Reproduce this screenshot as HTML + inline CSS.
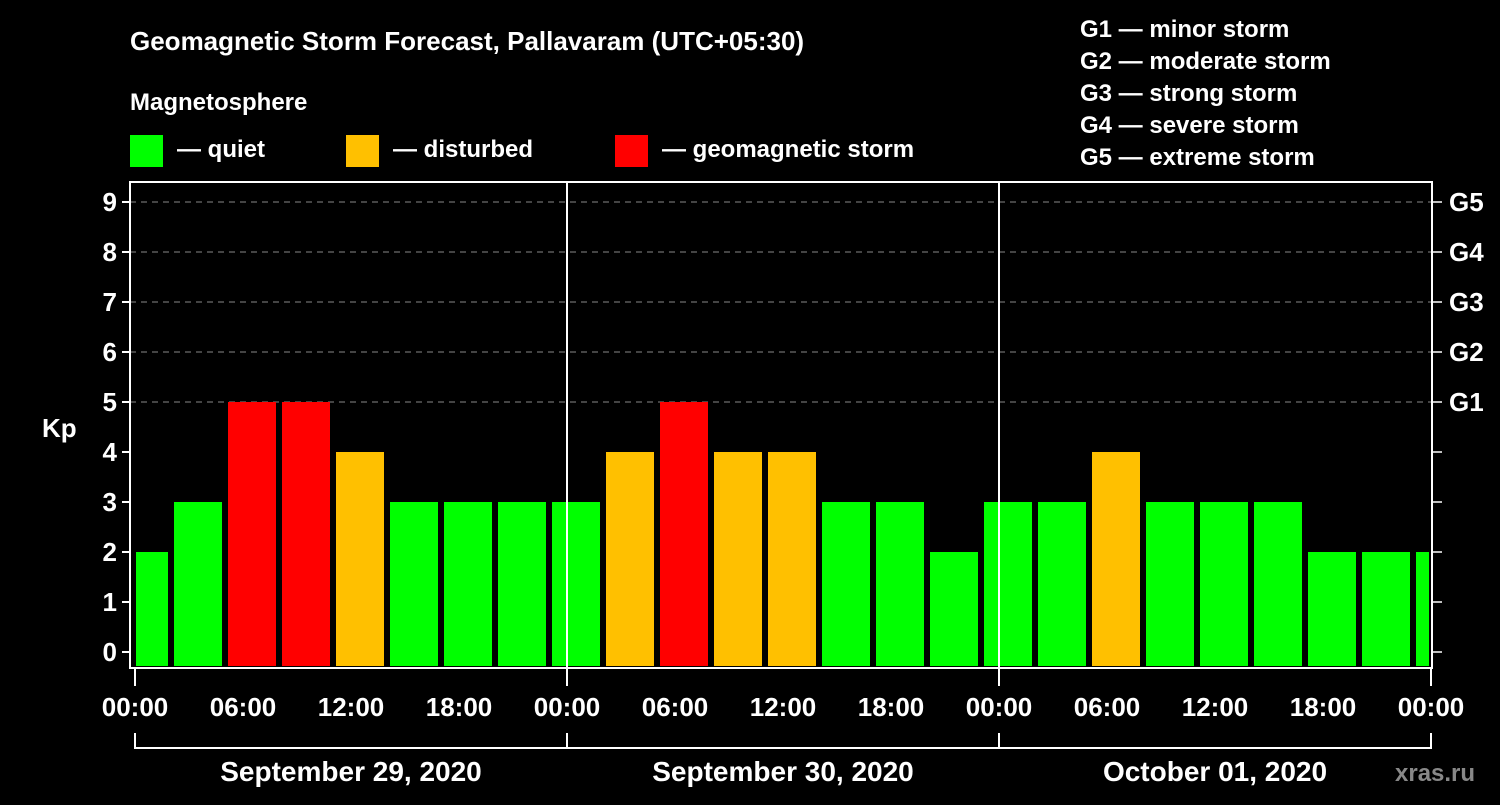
<!DOCTYPE html>
<html><head><meta charset="utf-8"><style>
body{margin:0;background:#000;width:1500px;height:800px;overflow:hidden;font-family:"Liberation Sans",sans-serif}
</style></head><body>
<svg id="chart" width="1500" height="800" xmlns="http://www.w3.org/2000/svg" font-family="Liberation Sans, sans-serif" font-weight="bold" fill="#fff">
<rect width="1500" height="800" fill="#000"/>
<text x="130" y="50" font-size="26">Geomagnetic Storm Forecast, Pallavaram (UTC+05:30)</text>
<text x="130" y="110" font-size="24">Magnetosphere</text>
<g><rect x="130" y="135" width="33" height="32" fill="#00ff00"/><text x="177" y="157" font-size="24">— quiet</text></g>
<g><rect x="346" y="135" width="33" height="32" fill="#ffc000"/><text x="393" y="157" font-size="24">— disturbed</text></g>
<g><rect x="615" y="135" width="33" height="32" fill="#ff0000"/><text x="662" y="157" font-size="24">— geomagnetic storm</text></g>
<g font-size="24">
<text x="1080" y="37">G1 — minor storm</text>
<text x="1080" y="69">G2 — moderate storm</text>
<text x="1080" y="101">G3 — strong storm</text>
<text x="1080" y="133">G4 — severe storm</text>
<text x="1080" y="165">G5 — extreme storm</text>
</g>
<text x="42" y="437" font-size="26">Kp</text>
<g id="grid"></g><g id="bars"></g><g id="axes"></g>
<text x="1395" y="781" font-size="24" fill="#888">xras.ru</text>
</svg>
<script>
const kpValues=[2,3,5,5,4,3,3,3,3,4,5,4,4,3,3,2,3,3,4,3,3,3,2,2,2];
const yTicks=[0,1,2,3,4,5,6,7,8,9];
const gLabels=["G1","G2","G3","G4","G5"];
const xTickLabels=["00:00","06:00","12:00","18:00","00:00","06:00","12:00","18:00","00:00","06:00","12:00","18:00","00:00"];
const dayLabels=["September 29, 2020","September 30, 2020","October 01, 2020"];
const NS="http://www.w3.org/2000/svg";
const L=130,R=1432,T=182,B=668,X0=135,DAY=432;
const y=v=>652-50*v;
const xh=h=>X0+h*18;
function mk(tag,attrs,parent){const e=document.createElementNS(NS,tag);for(const k in attrs)e.setAttribute(k,attrs[k]);document.getElementById(parent).appendChild(e);return e;}
yTicks.forEach(v=>{
 if(v>=5){const g=mk('line',{x1:L,x2:R,y1:y(v),y2:y(v),stroke:'#888','stroke-dasharray':'6,5','stroke-width':1},'grid');
 
 }
 const t=mk('line',{x1:122,x2:L,y1:y(v),y2:y(v),stroke:'#fff','stroke-width':2},'axes');
 
 
 const r=mk('line',{x1:R,x2:1442,y1:y(v),y2:y(v),stroke:'#fff','stroke-width':1.5},'axes');
 
 
 const l=mk('text',{x:117,y:y(v)+9,'text-anchor':'end','font-size':26},'axes');l.textContent=v;
 
 
});
gLabels.forEach((g,i)=>{const l=mk('text',{x:1449,y:y(5+i)+9,'font-size':26},'axes');l.textContent=g;
 
 });
mk('clipPath',{id:'clip'},'bars');
document.getElementById('clip').appendChild(Object.assign(document.createElementNS(NS,'rect'),{}));
const cr=document.querySelector('#clip rect');cr.setAttribute('x',136);cr.setAttribute('y',T);cr.setAttribute('width',1293);cr.setAttribute('height',B-T);
kpValues.forEach((v,i)=>{
 const c=xh(0.5+3*i);
 const col=v>=5?'#ff0000':v>=4?'#ffc000':'#00ff00';
 const b=mk('rect',{x:c-24,y:y(v),width:48,height:y(0)+16-y(v)-0,fill:col,'clip-path':'url(#clip)'},'bars');
 b.setAttribute('height',666-y(v));
 
 
});
[1,2].forEach(d=>{const s=mk('line',{x1:X0+d*DAY,x2:X0+d*DAY,y1:T,y2:B,stroke:'#fff','stroke-width':2},'axes');
 
 });
const fr=mk('rect',{x:L,y:T,width:R-L,height:B-T,fill:'none',stroke:'#fff','stroke-width':2},'axes');


xTickLabels.forEach((t,i)=>{
 const x=xh(6*i);
 if(i%4===0){const tk=mk('line',{x1:x,x2:x,y1:B,y2:686,stroke:'#fff','stroke-width':2},'axes');
 
 
 const br=mk('line',{x1:x,x2:x,y1:733,y2:749,stroke:'#fff','stroke-width':2},'axes');
 
 }
 const l=mk('text',{x:x,y:716,'text-anchor':'middle','font-size':26},'axes');l.textContent=t;
 
 
});
const bl=mk('line',{x1:X0,x2:X0+3*DAY,y1:748,y2:748,stroke:'#fff','stroke-width':2},'axes');


dayLabels.forEach((d,i)=>{const l=mk('text',{x:X0+DAY*(i+0.5),y:781,'text-anchor':'middle','font-size':28},'axes');l.textContent=d;
 
 });
</script>
</body></html>
